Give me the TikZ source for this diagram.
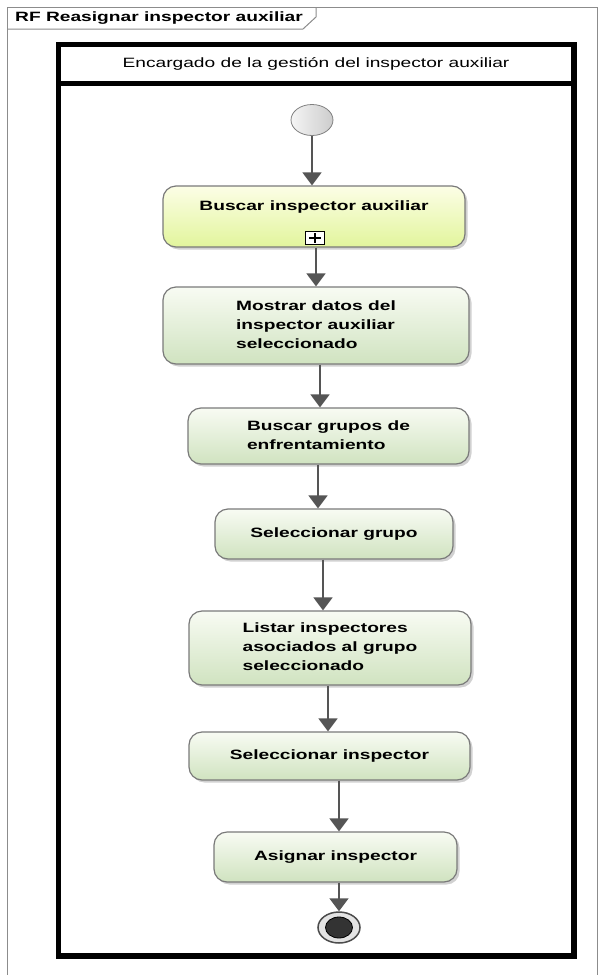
\documentclass[tikz,border=0pt]{standalone}
\usepackage{fontspec}
\setmainfont{Liberation Sans}
\usetikzlibrary{arrows.meta,shadows,shapes.geometric}
\newcommand{\sx}[1]{\scalebox{1.42}[1]{#1}}
\definecolor{arrowc}{HTML}{555555}
\definecolor{boxtop}{HTML}{F8FBF3}
\definecolor{boxbot}{HTML}{D0E3C0}
\definecolor{ytop}{HTML}{FCFEE6}
\definecolor{ybot}{HTML}{E2F59C}
\definecolor{framegray}{HTML}{8C8C8C}
\definecolor{boxline}{HTML}{7A7A7A}
\begin{document}
\begin{tikzpicture}[x=1pt,y=-1pt,
  font=\fontsize{13.5}{19}\selectfont,
  act/.style={draw=boxline, line width=1.2pt, rounded corners=13pt,
    top color=boxtop, bottom color=boxbot, inner sep=0pt, align=center,
    font=\fontsize{13.5}{19}\selectfont\bfseries,
    drop shadow={shadow xshift=2.5pt,shadow yshift=-2.5pt,fill=black!40,opacity=.45}},
  yact/.style={act, top color=ytop, bottom color=ybot},
  flow/.style={draw=arrowc, line width=1.6pt, -{Triangle[width=19pt,length=13pt,fill=arrowc]}}
]
\useasboundingbox (0,0) rectangle (598,975);
% outer frame
\draw[framegray, line width=1pt] (7,975) -- (7,7) -- (597,7) -- (597,975);
\draw[framegray, line width=1pt] (7,29) -- (303,29) -- (316,17) -- (316,7);
\node[anchor=west, font=\fontsize{13.5}{16}\selectfont\bfseries, inner sep=0pt] (title) at (15,18.5) {\sx{RF Reasignar inspector auxiliar}};
% lane
\draw[line width=5.5pt] (58.5,44.5) rectangle (574,956);
\draw[line width=5pt] (58.5,83) -- (574,83);
\node[inner sep=0pt] (hdr) at (316,64) {\sx{Encargado de la gestión del inspector auxiliar}};
% start
\node[ellipse, minimum width=42pt, minimum height=31pt, inner sep=0pt, draw=gray, line width=0.8pt,
  left color=gray!8, right color=gray!40] (start) at (312,120) {};
% actions
\node[yact, minimum width=302pt, minimum height=61pt] (b1) at (314,216.5) {};
\node[inner sep=0pt, font=\fontsize{13.5}{19}\selectfont\bfseries] (t1) at (314,207) {\sx{Buscar inspector auxiliar}};
\node[draw, line width=1.2pt, minimum width=19pt, minimum height=13pt, inner sep=0pt, fill=white] (icon) at (315,238) {};
\draw[line width=2pt] ([xshift=4pt]icon.west) -- ([xshift=-4pt]icon.east);
\draw[line width=2pt] ([yshift=-2.5pt]icon.north) -- ([yshift=2.5pt]icon.south);

\node[act, minimum width=306pt, minimum height=77pt] (b2) at (316,325.5)
  {\sx{\begin{tabular}{@{}l@{}}Mostrar datos del\\inspector auxiliar\\seleccionado\end{tabular}}};
\node[act, minimum width=281pt, minimum height=56pt] (b3) at (328.5,436)
  {\sx{\begin{tabular}{@{}l@{}}Buscar grupos de\\enfrentamiento\end{tabular}}};
\node[act, minimum width=238pt, minimum height=50pt] (b4) at (334,534) {\sx{Seleccionar grupo}};
\node[act, minimum width=282pt, minimum height=74pt] (b5) at (330,648)
  {\sx{\begin{tabular}{@{}l@{}}Listar inspectores\\asociados al grupo\\seleccionado\end{tabular}}};
\node[act, minimum width=281pt, minimum height=48pt] (b6) at (329.5,756) {\sx{Seleccionar inspector}};
\node[act, minimum width=243pt, minimum height=50pt] (b7) at (335.5,857) {\sx{Asignar inspector}};
% end
\node[ellipse, minimum width=42pt, minimum height=31pt, inner sep=0pt, draw=black!70, line width=1.5pt, fill=gray!22] (end) at (339,927.5) {};
\node[ellipse, minimum width=27pt, minimum height=21pt, inner sep=0pt, draw=black, line width=0.8pt, fill=black!80] (endin) at (end.center) {};
% connector columns
\coordinate (c12) at (316,0);
\coordinate (c23) at (320,0);
\coordinate (c34) at (318,0);
\coordinate (c45) at (323,0);
\coordinate (c56) at (328,0);
\coordinate (c67) at (339,0);
\draw[flow] (start.south) -- (b1.north -| start);
\draw[flow] (b1.south -| c12) -- (b2.north -| c12);
\draw[flow] (b2.south -| c23) -- (b3.north -| c23);
\draw[flow] (b3.south -| c34) -- (b4.north -| c34);
\draw[flow] (b4.south -| c45) -- (b5.north -| c45);
\draw[flow] (b5.south -| c56) -- (b6.north -| c56);
\draw[flow] (b6.south -| c67) -- (b7.north -| c67);
\draw[flow] (b7.south -| end) -- (end.north);
\end{tikzpicture}
\end{document}
